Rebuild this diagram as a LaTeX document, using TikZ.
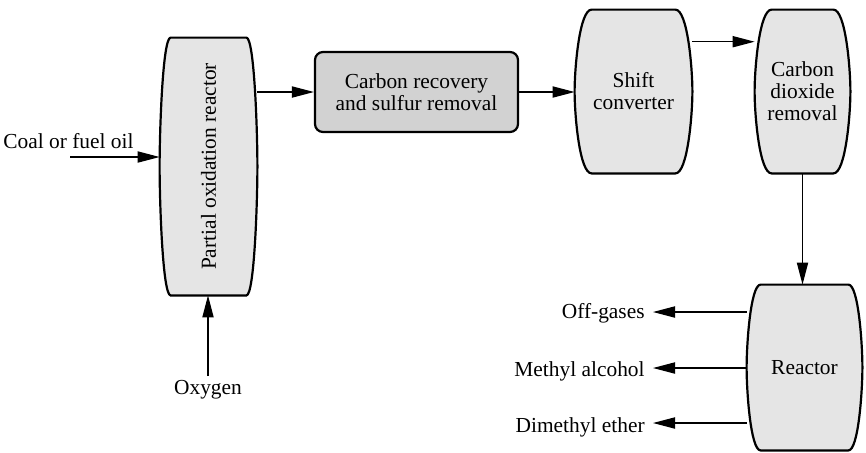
\documentclass[tikz,border=0pt]{standalone}
\usepackage{fontspec}
\setmainfont{Liberation Serif}
\usepackage{graphicx}
\usetikzlibrary{arrows.meta,calc,backgrounds}
\newcommand\vesselpath[3]{%
  \path[vesseldraw] let \p1=(#1.north west), \p2=(#1.south east) in
    ({\x1+#2},\y1) -- ({\x2-#2},\y1)
    .. controls ({\x2-(1-#3)*#2},\y1) and (\x2,{\y1-#3*(\y1-\y2)/2}) .. (\x2,{(\y1+\y2)/2})
    .. controls (\x2,{\y2+#3*(\y1-\y2)/2}) and ({\x2-(1-#3)*#2},\y2) .. ({\x2-#2},\y2)
    -- ({\x1+#2},\y2)
    .. controls ({\x1+(1-#3)*#2},\y2) and (\x1,{\y2+#3*(\y1-\y2)/2}) .. (\x1,{(\y1+\y2)/2})
    .. controls (\x1,{\y1-#3*(\y1-\y2)/2}) and ({\x1+(1-#3)*#2},\y1) .. ({\x1+#2},\y1) -- cycle;}
\begin{document}
\begin{tikzpicture}[x=0.5pt,y=-0.5pt,
  txt/.style={font=\fontsize{10.7}{11}\selectfont, text=black},
  lbl/.style={txt, inner sep=0pt},
  vessel/.style={txt, align=center, inner sep=0pt, draw=none},
  vesseldraw/.style={draw=black, line width=1.1pt, fill=gray!20},
  procbox/.style={txt, align=center, inner sep=0pt, draw=black, line width=1.1pt, fill=gray!35, rounded corners=4pt},
  arr/.style={line width=0.6pt, -{Triangle[length=11pt,width=5.6pt]}},
]
\useasboundingbox (0,0) rectangle (866,452);

\node[vessel, minimum width=48.5pt, minimum height=128.5pt] (pox) at (208.5,166.5) {\rotatebox{90}{Partial oxidation reactor}};
\node[procbox, minimum width=101.5pt, minimum height=40pt] (crs) at (416.5,92) {Carbon recovery\\and sulfur removal};
\node[vessel, minimum width=58.5pt, minimum height=81.5pt] (shift) at (633.5,91.5) {Shift\\converter};
\node[vessel, minimum width=47.5pt, minimum height=81.5pt] (co2) at (802.5,91.5) {Carbon\\dioxide\\removal};
\node[vessel, minimum width=57.5pt, minimum height=82.5pt] (reac) at (804.5,367.5) {Reactor};

\begin{scope}[on background layer]
  \vesselpath{pox}{5.5pt}{0.72}
  \vesselpath{shift}{8.5pt}{0.72}
  \vesselpath{co2}{8.5pt}{0.72}
  \vesselpath{reac}{7pt}{0.72}
\end{scope}

\node[lbl, anchor=base west] (coal) at (3,148) {Coal or fuel oil};
\node[lbl, inner sep=2pt] (oxy) at (208,390) {Oxygen};
\node[lbl, anchor=base east] (off) at (645,318) {Off-gases};
\node[lbl, anchor=base east] (meth) at (645,376) {Methyl alcohol};
\node[lbl, anchor=base east] (dme) at (645,432) {Dimethyl ether};

\coordinate (coalin) at (70,157);
\draw[arr] (coalin) -- (coalin -| pox.west);
\draw[arr] (oxy.north) -- (oxy.north |- pox.south);
\draw[arr] (pox.east |- crs.west) -- (crs.west);
\draw[arr] (crs.east) -- (crs.east -| shift.west);
\coordinate (sc) at ($(shift.north east)!0.196!(shift.south east)$);
\draw[arr] (sc) -- (sc -| co2.west);
\draw[arr] (co2.south) -- (co2.south |- reac.north);

\coordinate (offend) at ($(off.base east)+(8,-6)$);
\coordinate (methend) at ($(meth.base east)+(8,-8)$);
\coordinate (dmeend) at ($(dme.base east)+(8,-9)$);
\draw[arr] (reac.west |- offend) -- (offend);
\draw[arr] (reac.west |- methend) -- (methend);
\draw[arr] (reac.west |- dmeend) -- (dmeend);
\end{tikzpicture}
\end{document}
